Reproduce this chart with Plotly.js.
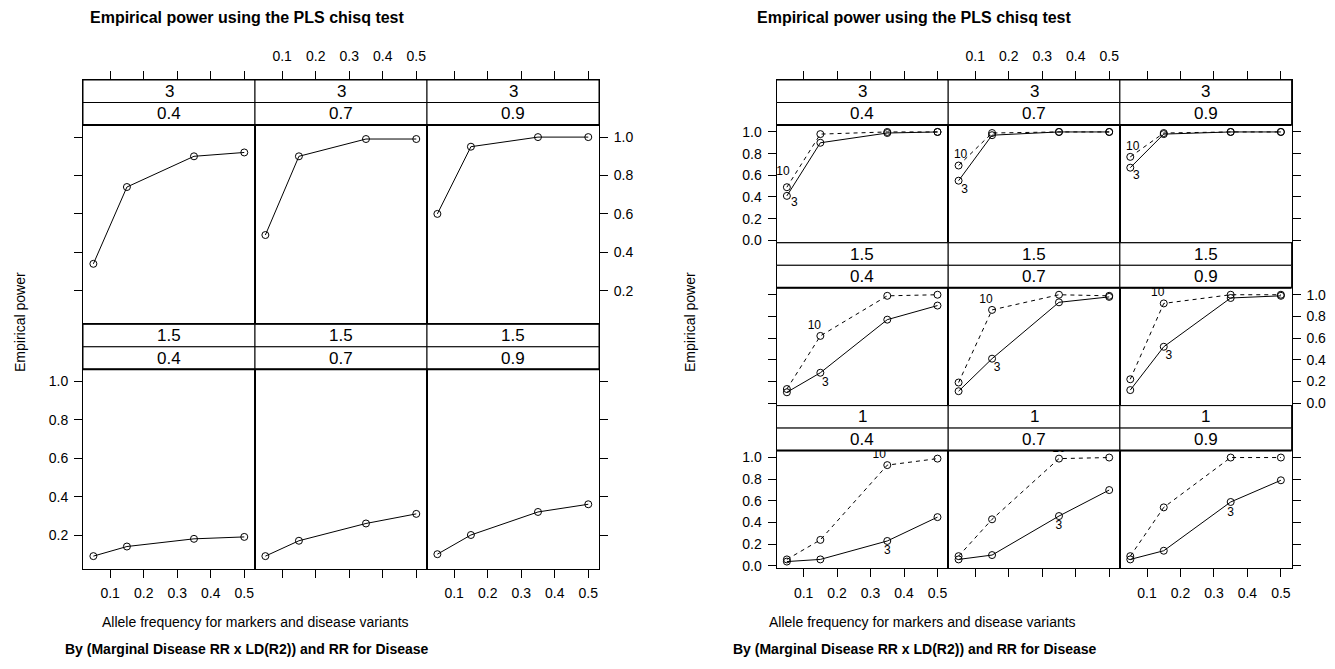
<!DOCTYPE html>
<html><head><meta charset="utf-8">
<script src="https://cdn.plot.ly/plotly-3.0.1.min.js"></script>
<style>html,body{margin:0;padding:0;background:#fff;} #chart{width:1335px;height:669px;}</style>
</head><body><div id="chart"></div>
<script>
// ---------------- data ----------------
const alleleFreq = [0.05, 0.15, 0.35, 0.5];
const xTickVals = [0.1, 0.2, 0.3, 0.4, 0.5];
const xTickText = ['0.1', '0.2', '0.3', '0.4', '0.5'];
const ldLevels = ['0.4', '0.7', '0.9'];
const leftMarginalRR = ['3', '1.5'];
const rightMarginalRR = ['3', '1.5', '1'];
const leftYTickVals = [0.2, 0.4, 0.6, 0.8, 1.0];
const leftYTickText = ['0.2', '0.4', '0.6', '0.8', '1.0'];
const rightYTickVals = [0.0, 0.2, 0.4, 0.6, 0.8, 1.0];
const rightYTickText = ['0.0', '0.2', '0.4', '0.6', '0.8', '1.0'];
const diseaseRRLabels = ['3', '10'];

// left chart: one series per panel
const left_mrr3_ld04 = [0.34, 0.74, 0.90, 0.92];
const left_mrr3_ld07 = [0.49, 0.90, 0.99, 0.99];
const left_mrr3_ld09 = [0.60, 0.95, 1.00, 1.00];
const left_mrr15_ld04 = [0.09, 0.14, 0.18, 0.19];
const left_mrr15_ld07 = [0.09, 0.17, 0.26, 0.31];
const left_mrr15_ld09 = [0.10, 0.20, 0.32, 0.36];

// right chart: RR for disease 3 (solid) and 10 (dashed)
const right_mrr3_ld04_rr3 = [0.41, 0.90, 0.99, 1.00];
const right_mrr3_ld04_rr10 = [0.49, 0.98, 1.00, 1.00];
const right_mrr3_ld07_rr3 = [0.55, 0.97, 1.00, 1.00];
const right_mrr3_ld07_rr10 = [0.69, 0.99, 1.00, 1.00];
const right_mrr3_ld09_rr3 = [0.67, 0.98, 1.00, 1.00];
const right_mrr3_ld09_rr10 = [0.77, 0.99, 1.00, 1.00];
const right_mrr15_ld04_rr3 = [0.10, 0.28, 0.77, 0.90];
const right_mrr15_ld04_rr10 = [0.13, 0.62, 0.99, 1.00];
const right_mrr15_ld07_rr3 = [0.11, 0.41, 0.93, 0.98];
const right_mrr15_ld07_rr10 = [0.19, 0.86, 1.00, 0.99];
const right_mrr15_ld09_rr3 = [0.12, 0.52, 0.97, 0.99];
const right_mrr15_ld09_rr10 = [0.22, 0.92, 1.00, 1.00];
const right_mrr1_ld04_rr3 = [0.04, 0.06, 0.23, 0.45];
const right_mrr1_ld04_rr10 = [0.06, 0.24, 0.93, 0.99];
const right_mrr1_ld07_rr3 = [0.06, 0.10, 0.46, 0.70];
const right_mrr1_ld07_rr10 = [0.09, 0.43, 0.99, 1.00];
const right_mrr1_ld09_rr3 = [0.06, 0.14, 0.59, 0.79];
const right_mrr1_ld09_rr10 = [0.09, 0.54, 1.00, 1.00];

// ---------------- layout helpers ----------------
const W = 1335, H = 669;
const FONT = 'Liberation Sans, Arial, Helvetica, sans-serif';
const TICK_FONT = 14, STRIP_FONT = 17;
const traces = [], shapes = [], annotations = [];
const layout = {
  width: W, height: H, autosize: false,
  margin: {l: 0, r: 0, t: 0, b: 0},
  paper_bgcolor: '#fff', plot_bgcolor: 'rgba(0,0,0,0)',
  font: {family: FONT, color: '#000', size: 13},
  showlegend: false, hovermode: false
};
let axisN = 0;

const leftGeom = {x0: 83, colW: 172, stripTop: 80, stripH: 22.5, panelH: 199.3,
  xr: [0.019, 0.532], yr: [0.025, 1.063], ncols: 3, nrows: 2,
  yTickVals: leftYTickVals, yTickText: leftYTickText};
const rightGeom = {x0: 776.5, colW: 171.7, stripTop: 80, stripH: 22.5, panelH: 117.8,
  xr: [0.019, 0.532], yr: [-0.023, 1.064], ncols: 3, nrows: 3,
  yTickVals: rightYTickVals, yTickText: rightYTickText};

function buildPanel(g, row, col, outer, inner, seriesList) {
  axisN++;
  const xa = axisN === 1 ? 'xaxis' : 'xaxis' + axisN;
  const ya = axisN === 1 ? 'yaxis' : 'yaxis' + axisN;
  const xid = axisN === 1 ? 'x' : 'x' + axisN;
  const yid = axisN === 1 ? 'y' : 'y' + axisN;
  const rowTop = g.stripTop + row * (2 * g.stripH + g.panelH);
  const panelTop = rowTop + 2 * g.stripH;
  const panelBot = panelTop + g.panelH;
  const x0 = g.x0 + col * g.colW, x1 = x0 + g.colW;
  const upY = (g.yr[1] - g.yr[0]) / g.panelH;
  const upX = (g.xr[1] - g.xr[0]) / g.colW;
  const yTop = g.yr[1] + 2 * g.stripH * upY;

  let xSide = null, xLab = false;
  if (row === 0) { xSide = 'top'; xLab = (col % 2 === 1); }
  else if (row === g.nrows - 1) { xSide = 'bottom'; xLab = (col % 2 === 0); }
  const labSide = ((g.nrows - 1 - row) % 2 === 0) ? 'left' : 'right';
  let ySide = null, yLab = false;
  if (col === 0) { ySide = 'left'; yLab = labSide === 'left'; }
  else if (col === g.ncols - 1) { ySide = 'right'; yLab = labSide === 'right'; }

  layout[xa] = {domain: [x0 / W, x1 / W], range: g.xr, anchor: yid,
    side: xSide || 'bottom', ticks: xSide ? 'outside' : '', ticklen: 8, tickwidth: 1, tickcolor: '#000',
    showticklabels: xLab, tickmode: 'array', tickvals: xTickVals, ticktext: xTickText,
    tickfont: {size: TICK_FONT, color: '#000'}, ticklabelstandoff: 4,
    showline: true, mirror: true, linecolor: '#000', linewidth: 1,
    showgrid: false, zeroline: false, fixedrange: true};
  layout[ya] = {domain: [1 - panelBot / H, 1 - rowTop / H], range: [g.yr[0], yTop], anchor: xid,
    side: ySide || 'left', ticks: ySide ? 'outside' : '', ticklen: 8, tickwidth: 1, tickcolor: '#000',
    showticklabels: yLab, tickmode: 'array', tickvals: g.yTickVals, ticktext: g.yTickText,
    tickfont: {size: TICK_FONT, color: '#000'}, ticklabelstandoff: 3,
    showline: true, mirror: true, linecolor: '#000', linewidth: 1,
    showgrid: false, zeroline: false, fixedrange: true};

  seriesList.forEach(s => {
    traces.push({x: alleleFreq, y: s.values, xaxis: xid, yaxis: yid, type: 'scatter',
      mode: 'lines+markers',
      line: {color: '#000', width: 1, dash: s.dashed ? '4px,4px' : 'solid'},
      marker: {symbol: 'circle-open', size: 7, color: '#000', line: {width: 1, color: '#000'}}});
    if (s.label) {
      const L = s.label;
      traces.push({x: [alleleFreq[L.idx] + L.dx * upX], y: [s.values[L.idx] - L.dy * upY],
        xaxis: xid, yaxis: yid, type: 'scatter', mode: 'text', text: [s.name],
        textposition: 'middle center', textfont: {size: 12, color: '#000', family: FONT},
        cliponaxis: true});
    }
  });

  // strips
  [[rowTop, outer], [rowTop + g.stripH, inner]].forEach(([t, txt]) => {
    shapes.push({type: 'rect', xref: 'paper', yref: 'paper', x0: x0 / W, x1: x1 / W,
      y0: 1 - (t + g.stripH) / H, y1: 1 - t / H, fillcolor: '#fff',
      line: {color: '#000', width: 1}, layer: 'above'});
    annotations.push({xref: 'paper', yref: 'paper', x: (x0 + x1) / 2 / W, y: 1 - (t + g.stripH / 2) / H,
      text: txt, showarrow: false, xanchor: 'center', yanchor: 'middle',
      font: {size: STRIP_FONT, color: '#000', family: FONT}});
  });
  shapes.push({type: 'line', xref: 'paper', yref: 'paper', x0: x0 / W, x1: x1 / W,
    y0: 1 - panelTop / H, y1: 1 - panelTop / H, line: {color: '#000', width: 2}, layer: 'above'});
}

// ---------------- left chart ----------------
const leftSeries = [
  [left_mrr3_ld04, left_mrr3_ld07, left_mrr3_ld09],
  [left_mrr15_ld04, left_mrr15_ld07, left_mrr15_ld09]
];
leftMarginalRR.forEach((m, r) => {
  ldLevels.forEach((ld, c) => {
    buildPanel(leftGeom, r, c, m, ld, [{values: leftSeries[r][c], dashed: false}]);
  });
});

// ---------------- right chart ----------------
const rightRR3 = [
  [right_mrr3_ld04_rr3, right_mrr3_ld07_rr3, right_mrr3_ld09_rr3],
  [right_mrr15_ld04_rr3, right_mrr15_ld07_rr3, right_mrr15_ld09_rr3],
  [right_mrr1_ld04_rr3, right_mrr1_ld07_rr3, right_mrr1_ld09_rr3]
];
const rightRR10 = [
  [right_mrr3_ld04_rr10, right_mrr3_ld07_rr10, right_mrr3_ld09_rr10],
  [right_mrr15_ld04_rr10, right_mrr15_ld07_rr10, right_mrr15_ld09_rr10],
  [right_mrr1_ld04_rr10, right_mrr1_ld07_rr10, right_mrr1_ld09_rr10]
];
// where the "3" and "10" labels sit: point index + pixel offset
const labelPos3 = [
  [{idx: 0, dx: 7.5, dy: 7}, {idx: 0, dx: 6, dy: 9}, {idx: 0, dx: 6, dy: 8}],
  [{idx: 1, dx: 5, dy: 10}, {idx: 1, dx: 5, dy: 9}, {idx: 1, dx: 5, dy: 9}],
  [{idx: 2, dx: 0, dy: 10}, {idx: 2, dx: 0, dy: 10}, {idx: 2, dx: 0, dy: 11}]
];
const labelPos10 = [
  [{idx: 0, dx: -4, dy: -15}, {idx: 0, dx: 2, dy: -11}, {idx: 0, dx: 2.5, dy: -10}],
  [{idx: 1, dx: -6, dy: -10}, {idx: 1, dx: -6, dy: -10}, {idx: 1, dx: -6, dy: -10}],
  [{idx: 2, dx: -8, dy: -10}, {idx: 2, dx: 0, dy: -10}, {idx: 2, dx: 0, dy: -10}]
];
rightMarginalRR.forEach((m, r) => {
  ldLevels.forEach((ld, c) => {
    buildPanel(rightGeom, r, c, m, ld, [
      {values: rightRR3[r][c], dashed: false, name: diseaseRRLabels[0], label: labelPos3[r][c]},
      {values: rightRR10[r][c], dashed: true, name: diseaseRRLabels[1], label: labelPos10[r][c]}
    ]);
  });
});

// ---------------- titles ----------------
function txt(xpx, ypx, text, size, bold, angle) {
  annotations.push({xref: 'paper', yref: 'paper', x: xpx / W, y: 1 - ypx / H,
    text: bold ? '<b>' + text + '</b>' : text, showarrow: false,
    xanchor: 'center', yanchor: 'middle', textangle: angle || 0,
    font: {size: size, color: '#000', family: FONT}});
}
const mainTitle = 'Empirical power using the PLS chisq test';
const xTitle = 'Allele frequency for markers and disease variants';
const subTitle = 'By (Marginal Disease RR x LD(R2)) and RR for Disease';
const yTitle = 'Empirical power';
[0, 667.5].forEach(off => {
  txt(247 + off, 18, mainTitle, 16, true);
  txt(255 + off, 622, xTitle, 14, false);
  txt(247 + off, 649, subTitle, 14, true);
});
txt(20, 322, yTitle, 14, false, -90);
txt(690, 322, yTitle, 14, false, -90);

layout.shapes = shapes;
layout.annotations = annotations;
Plotly.newPlot('chart', traces, layout, {displayModeBar: false, staticPlot: true});
</script>
</body></html>
